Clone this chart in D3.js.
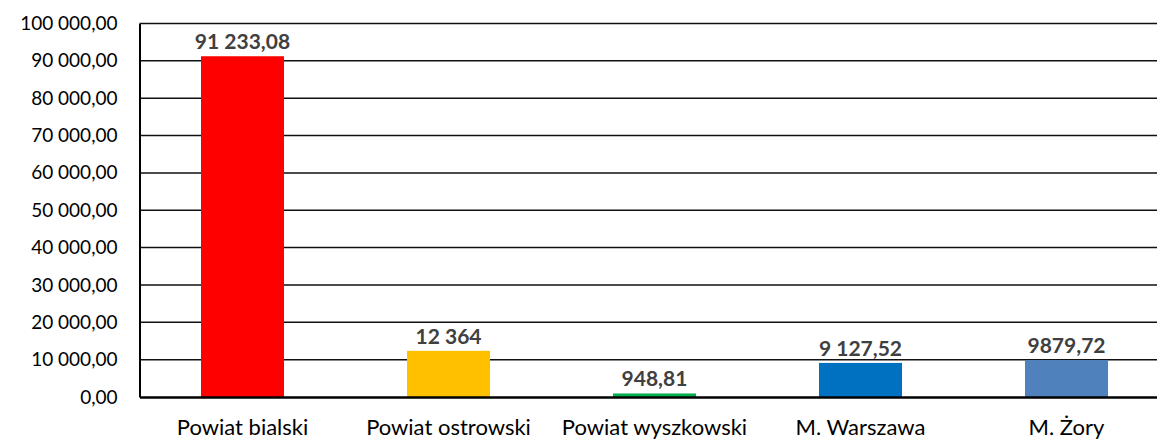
<!DOCTYPE html>
<html>
<head>
<meta charset="utf-8">
<script src="https://cdn.jsdelivr.net/npm/d3@7"></script>
<style>
  body { margin: 0; background: #fff; }
  svg text { font-family: Lato, "Open Sans", sans-serif; }
</style>
</head>
<body>
<div id="chart"></div>
<script>
// data
const categories = ["Powiat bialski", "Powiat ostrowski", "Powiat wyszkowski", "M. Warszawa", "M. Żory"];
const values = [91233.08, 12364, 948.81, 9127.52, 9879.72];
const valueLabels = ["91 233,08", "12 364", "948,81", "9 127,52", "9879,72"];
const barColors = ["#FF0000", "#FFC000", "#00B050", "#0070C0", "#4F81BD"];
const yTicks = [0, 10000, 20000, 30000, 40000, 50000, 60000, 70000, 80000, 90000, 100000];

const svgWidth = 1157;
const svgHeight = 439;
const margin = { top: 23.5, left: 139.5 };
const chartWidth = 1030;
const chartHeight = 373.5;

const plLocale = d3.formatLocale({ decimal: ",", thousands: " ", grouping: [3], currency: ["", " zł"] });
const tickFormat = plLocale.format(",.2f");

const svg = d3.select("#chart")
  .append("svg")
  .attr("width", svgWidth)
  .attr("height", svgHeight);

const chartGroup = svg.append("g")
  .attr("transform", `translate(${margin.left}, ${margin.top})`);

const xBandScale = d3.scaleBand()
  .domain(categories)
  .range([0, chartWidth])
  .paddingInner(0.597)
  .paddingOuter(0.2985);

const yLinearScale = d3.scaleLinear()
  .domain([0, 100000])
  .range([chartHeight, 0]);

// gridlines
chartGroup.append("g")
  .selectAll("line")
  .data(yTicks.slice(1))
  .enter()
  .append("line")
  .attr("x1", 0)
  .attr("x2", chartWidth)
  .attr("y1", d => yLinearScale(d))
  .attr("y2", d => yLinearScale(d))
  .attr("stroke", "#111")
  .attr("stroke-width", 1.5);

// left axis
const leftAxis = d3.axisLeft(yLinearScale).tickValues(yTicks).tickFormat(tickFormat).tickSize(0).tickPadding(22);
const yAxisG = chartGroup.append("g").call(leftAxis);
yAxisG.select(".domain").attr("stroke", "#000").attr("stroke-width", 2);
yAxisG.selectAll("text")
  .attr("font-size", 19)
  .attr("fill", "#000");

// bars
chartGroup.selectAll(".bar")
  .data(values)
  .enter()
  .append("rect")
  .attr("class", "bar")
  .attr("fill", (d, i) => barColors[i])
  .attr("x", (d, i) => xBandScale(categories[i]))
  .attr("y", d => yLinearScale(d))
  .attr("width", xBandScale.bandwidth())
  .attr("height", d => chartHeight - yLinearScale(d));

// value labels
chartGroup.selectAll(".val")
  .data(values)
  .enter()
  .append("text")
  .attr("class", "val")
  .attr("x", (d, i) => xBandScale(categories[i]) + xBandScale.bandwidth() / 2)
  .attr("y", d => yLinearScale(d) - 7)
  .attr("text-anchor", "middle")
  .attr("font-size", 21)
  .attr("font-weight", "bold")
  .attr("fill", "#404040")
  .text((d, i) => valueLabels[i]);

// bottom axis
const bottomAxis = d3.axisBottom(xBandScale).tickSize(0).tickPadding(22);
const xAxisG = chartGroup.append("g")
  .attr("transform", `translate(0, ${chartHeight})`)
  .call(bottomAxis);
xAxisG.select(".domain").attr("stroke", "#000").attr("stroke-width", 2.5);
xAxisG.selectAll("text")
  .attr("font-size", 22)
  .attr("fill", "#000");
</script>
</body>
</html>
